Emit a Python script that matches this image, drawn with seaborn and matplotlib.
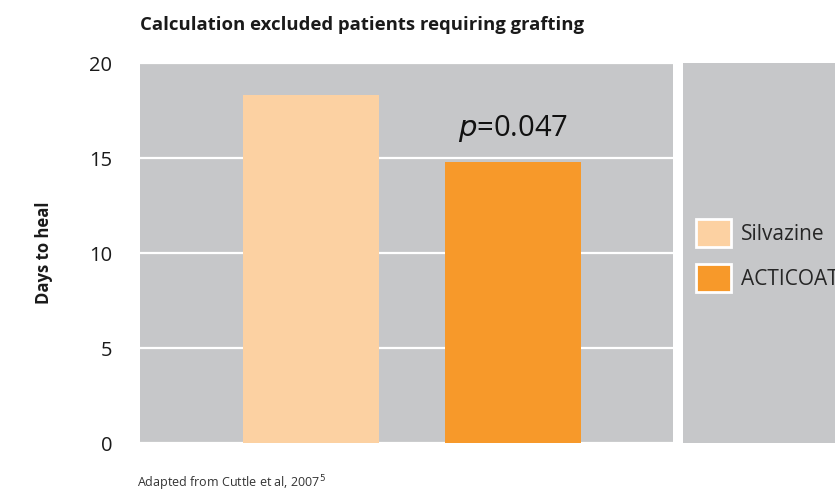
import matplotlib
matplotlib.use("Agg")
import matplotlib.pyplot as plt
from matplotlib.patches import Patch
import seaborn as sns

# data
treatments = ["Silvazine", "ACTICOAT"]
days_to_heal = [18.3, 14.8]
bar_colors = ["#FCD1A2", "#F7992A"]
y_ticks = [0, 5, 10, 15, 20]
p_label = "$p$=0.047"

sns.set_theme(style="white")
plt.rcParams["font.family"] = ["Open Sans", "DejaVu Sans"]

fig = plt.figure(figsize=(8.35, 4.93), dpi=100)
ax = fig.add_axes([0.1677, 0.1014, 0.6383, 0.7708])
ax_leg = fig.add_axes([0.818, 0.1014, 0.2, 0.7708])

panel = "#C6C7C9"
for a in (ax, ax_leg):
    a.set_facecolor(panel)
    for s in a.spines.values():
        s.set_visible(False)
ax_leg.set_xticks([])
ax_leg.set_yticks([])

sns.barplot(x=treatments, y=days_to_heal, hue=treatments, palette=bar_colors,
            width=0.673, saturation=1, legend=False, ax=ax, zorder=3,
            linewidth=0, edgecolor="none")

ax.set_xlim(-0.847, 1.792)
ax.set_ylim(0, 20)
ax.set_yticks(y_ticks)
ax.yaxis.grid(True, color="white", lw=1.6, zorder=1)
ax.set_axisbelow(True)
ax.tick_params(axis="y", length=0, pad=20, labelsize=14.5, colors="#1a1a1a")
ax.set_xticks([])
ax.set_xlabel("")
ax.set_ylabel("Days to heal", fontsize=12, fontweight="bold", labelpad=26,
              color="#1a1a1a")

# p-value over the ACTICOAT bar
ax.text(1, days_to_heal[1] + 0.95, p_label, ha="center", va="bottom",
        fontsize=21, color="#111111")

handles = [Patch(facecolor=c, edgecolor="white", linewidth=2) for c in bar_colors]
fig.legend(handles, treatments, loc="center left", bbox_to_anchor=(0.833, 0.482),
           frameon=False, fontsize=15, handlelength=1.7, handleheight=1.7,
           labelspacing=0.8, handletextpad=0.5, borderpad=0, borderaxespad=0)

fig.text(0.1677, 0.95, "Calculation excluded patients requiring grafting",
         fontsize=13.3, fontweight="bold", color="#1a1a1a", ha="left", va="center",
         fontstretch="condensed")
fig.text(0.164, 0.02, "Adapted from Cuttle et al, 2007$^5$", fontsize=9,
         color="#333333", ha="left", va="center")

fig.savefig("out.png", dpi=100)
